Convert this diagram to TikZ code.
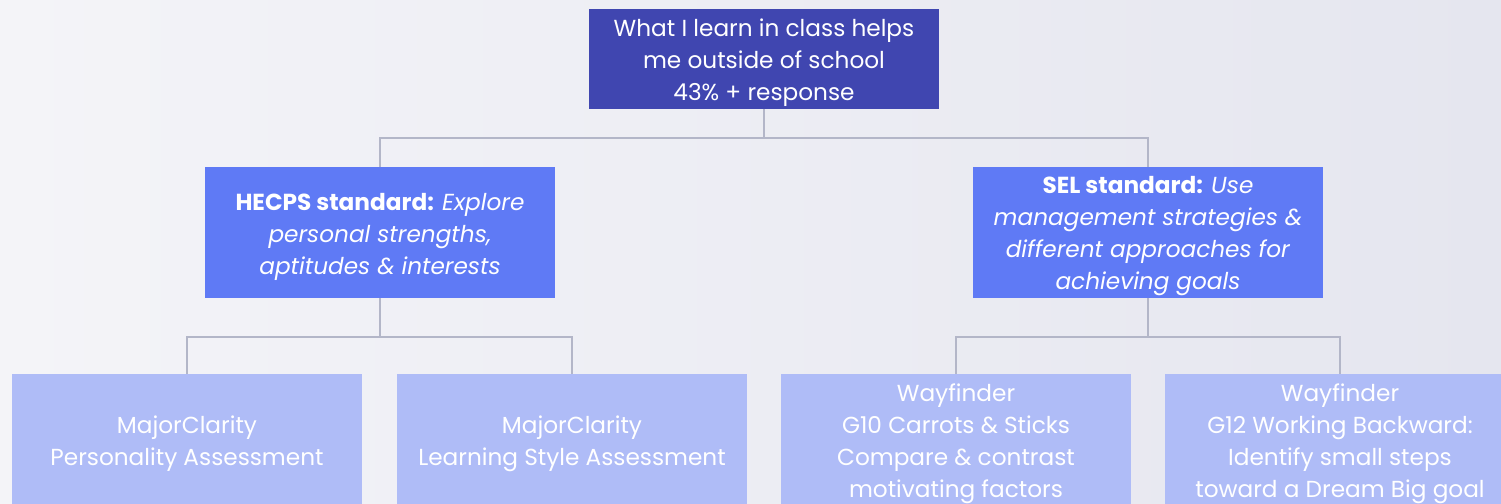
\documentclass[tikz,border=0pt]{standalone}
\usepackage{fontspec}
\setmainfont{Poppins}
\definecolor{bgl}{HTML}{F4F4F8}
\definecolor{bgr}{HTML}{E5E6EF}
\definecolor{topc}{HTML}{4046B0}
\definecolor{midc}{HTML}{5F7AF5}
\definecolor{lowc}{HTML}{AFBCF7}
\definecolor{linec}{HTML}{B3B6C8}
\newcommand{\boxtext}[1]{\raisebox{-3pt}[\height][\depth]{\parbox{262.5pt}{\centering #1}}}
\tikzset{
  box/.style={rectangle, inner sep=0pt, minimum width=262.5pt, text=white, align=center,
    font=\fontsize{17.4}{24}\selectfont},
  topbox/.style={box, fill=topc, minimum height=75pt},
  midbox/.style={box, fill=midc, minimum height=98.25pt},
  lowbox/.style={box, fill=lowc, minimum height=99pt},
  conn/.style={draw=linec, line width=1.5pt}
}
\begin{document}
\begin{tikzpicture}[x=0.75pt,y=-0.75pt]
\useasboundingbox (0,0) rectangle (1501,503);
\clip (0,0) rectangle (1501,503);
\shade[left color=bgl, right color=bgr] (0,0) rectangle (1501,503);
\node[topbox] (top) at (764,59) {\boxtext{What I learn in class helps\\me outside of school\\43\% + response}};
\node[midbox] (hecps) at (380,232.5) {\boxtext{\textbf{HECPS standard:} \textit{Explore}\\\textit{personal strengths,}\\\textit{aptitudes \& interests}}};
\node[midbox] (sel) at (1148,232.5) {\boxtext{\textbf{SEL standard:} \textit{Use}\\\textit{management strategies \&}\\\textit{different approaches for}\\\textit{achieving goals}}};
\node[lowbox] (pers) at (187,440) {\boxtext{MajorClarity\\Personality Assessment}};
\node[lowbox] (learn) at (572,440) {\boxtext{MajorClarity\\Learning Style Assessment}};
\node[lowbox] (carrots) at (956,440) {\boxtext{Wayfinder\\G10 Carrots \& Sticks\\Compare \& contrast\\motivating factors}};
\node[lowbox] (back) at (1340,440) {\boxtext{Wayfinder\\G12 Working Backward:\\Identify small steps\\toward a Dream Big goal}};
\coordinate (j1) at (764,138);
\coordinate (j2) at (380,337);
\coordinate (j3) at (1148,337);
\draw[conn] (top.south) -- (j1);
\draw[conn] (j1) -| (hecps.north);
\draw[conn] (j1) -| (sel.north);
\draw[conn] (hecps.south) -- (j2);
\draw[conn] (j2) -| (pers.north);
\draw[conn] (j2) -| (learn.north);
\draw[conn] (sel.south) -- (j3);
\draw[conn] (j3) -| (carrots.north);
\draw[conn] (j3) -| (back.north);
\end{tikzpicture}
\end{document}
